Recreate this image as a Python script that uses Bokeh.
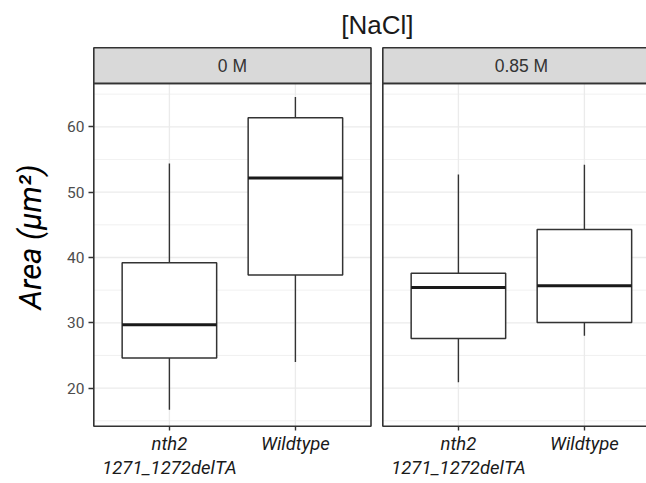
from bokeh.plotting import figure
from bokeh.models import Range1d, FixedTicker, CustomJSTickFormatter, LinearAxis, Title
from bokeh.core.properties import value
from bokeh.embed import file_html
from bokeh.resources import INLINE

# ---- data ----
nacl_levels = ["0 M", "0.85 M"]
genotypes = ["nth2\n1271_1272delTA", "Wildtype"]
# order: [0 M nth2, 0 M Wildtype, 0.85 M nth2, 0.85 M Wildtype]
whisker_low = [16.7, 24.0, 20.9, 28.0]
q1 = [24.6, 37.3, 27.6, 30.05]
median = [29.7, 52.15, 35.4, 35.67]
q3 = [39.2, 61.4, 37.6, 44.3]
whisker_high = [54.4, 64.55, 52.7, 54.2]
y_ticks = [20, 30, 40, 50, 60]
y_minor = [15, 25, 35, 45, 55, 65]
title_text = "[NaCl]"
y_label = "Area (μm²)"

# ---- layout constants ----
W, H = 646, 483
PANEL_W = 2.2            # 0.4 .. 2.6 (discrete scale expansion)
GAP = 0.0937             # gap between facet panels in x units
SHIFT = PANEL_W + GAP
BOX_W = 0.75
PANEL_Y0, PANEL_Y1 = 14.17, 66.65
STRIP_Y1 = 72.11
x_start, x_end = 0.3817, 4.7865
y_start, y_end = 13.82, 72.45

panel_left = [0.4 + i * SHIFT for i in range(len(nacl_levels))]
xs, line1, line2, xs2 = [], [], [], []
for i in range(len(nacl_levels)):
    for j in range(len(genotypes)):
        x = j + 1 + i * SHIFT
        parts = genotypes[j].split("\n")
        xs.append(x)
        line1.append(parts[0])
        if len(parts) > 1:
            xs2.append(x)
            line2.append(parts[1])

p = figure(width=W, height=H, x_range=Range1d(x_start, x_end), y_range=Range1d(y_start, y_end),
           output_backend="svg", toolbar_location=None,
           min_border_left=91, min_border_right=0, min_border_top=45, min_border_bottom=55)
p.xgrid.visible = False
p.ygrid.visible = False
p.outline_line_color = None
p.background_fill_color = "white"
p.border_fill_color = "white"

# title
title_w = 72
title_center = 376.7
p.title = Title(text=title_text, align="left", offset=title_center - title_w / 2 - 91,
                text_font="Liberation Sans", text_font_size="26px", text_font_style="normal",
                text_color="#1A1A1A", standoff=12)

GRID = "#EBEBEB"
for i in range(len(nacl_levels)):
    L = panel_left[i]
    R = L + PANEL_W
    p.segment(x0=[L] * len(y_minor), x1=[R] * len(y_minor), y0=y_minor, y1=y_minor,
              line_color=GRID, line_width=0.7)
    p.segment(x0=[L] * len(y_ticks), x1=[R] * len(y_ticks), y0=y_ticks, y1=y_ticks,
              line_color=GRID, line_width=1.3)
    vx = xs[2 * i:2 * i + 2]
    p.segment(x0=vx, x1=vx, y0=[PANEL_Y0] * 2, y1=[PANEL_Y1] * 2, line_color=GRID, line_width=1.3)

# whiskers
p.segment(x0=xs, x1=xs, y0=whisker_low, y1=q1, line_color="#333333", line_width=1.4)
p.segment(x0=xs, x1=xs, y0=q3, y1=whisker_high, line_color="#333333", line_width=1.4)
# boxes
p.quad(left=[x - BOX_W / 2 for x in xs], right=[x + BOX_W / 2 for x in xs], bottom=q1, top=q3,
       fill_color="white", line_color="#333333", line_width=1.5)
# medians
p.segment(x0=[x - BOX_W / 2 for x in xs], x1=[x + BOX_W / 2 for x in xs], y0=median, y1=median,
          line_color="#1A1A1A", line_width=3)

# panel borders and strips
for i in range(len(nacl_levels)):
    L = panel_left[i]
    R = L + PANEL_W
    p.quad(left=[L], right=[R], bottom=[PANEL_Y0], top=[PANEL_Y1], fill_color=None,
           line_color="#333333", line_width=1.6)
    p.quad(left=[L], right=[R], bottom=[PANEL_Y1], top=[STRIP_Y1], fill_color="#D9D9D9",
           line_color="#333333", line_width=1.6)

p.text(x=[L + PANEL_W / 2 for L in panel_left], y=[(PANEL_Y1 + STRIP_Y1) / 2] * 2, text=nacl_levels,
       text_align="center", text_baseline="middle", text_font=value("Liberation Sans"),
       text_font_size="17.5px", text_color="#333333")

# x axis, first label line
xa = p.xaxis[0]
xa.ticker = FixedTicker(ticks=xs)
xa.formatter = CustomJSTickFormatter(args=dict(labels=line1), code="return labels[index]")
xa.axis_line_color = None
xa.major_tick_in = 2
xa.major_tick_out = 2
xa.minor_tick_line_color = None
xa.major_tick_line_color = "#333333"
xa.major_tick_line_width = 1.4
xa.major_label_standoff = 2
xa.major_label_text_font = "Roboto"
xa.major_label_text_font_style = "italic"
xa.major_label_text_font_size = "18.5px"
xa.major_label_text_color = "#1A1A1A"

# x axis, second label line
xa2 = LinearAxis(ticker=FixedTicker(ticks=xs2),
                 formatter=CustomJSTickFormatter(args=dict(labels=line2), code="return labels[index]"))
xa2.axis_line_color = None
xa2.major_tick_line_color = None
xa2.minor_tick_line_color = None
xa2.major_tick_in = 0
xa2.major_tick_out = 0
xa2.major_label_standoff = -1
xa2.major_label_text_font = "Roboto"
xa2.major_label_text_font_style = "italic"
xa2.major_label_text_font_size = "18.5px"
xa2.major_label_text_color = "#1A1A1A"
p.add_layout(xa2, "below")

ya = p.yaxis[0]
ya.ticker = FixedTicker(ticks=y_ticks)
ya.axis_line_color = None
ya.major_tick_in = 2
ya.major_tick_out = 3
ya.minor_tick_line_color = None
ya.major_tick_line_color = "#333333"
ya.major_tick_line_width = 1.4
ya.major_label_standoff = 4
ya.major_label_text_font = "Roboto"
ya.major_label_text_font_size = "15.5px"
ya.major_label_text_color = "#4D4D4D"
ya.axis_label = y_label
ya.axis_label_text_font = "Roboto"
ya.axis_label_text_font_style = "italic"
ya.axis_label_text_font_size = "31px"
ya.axis_label_text_color = "#000000"
ya.axis_label_standoff = 15

open("out.html", "w").write(file_html(p, INLINE))
